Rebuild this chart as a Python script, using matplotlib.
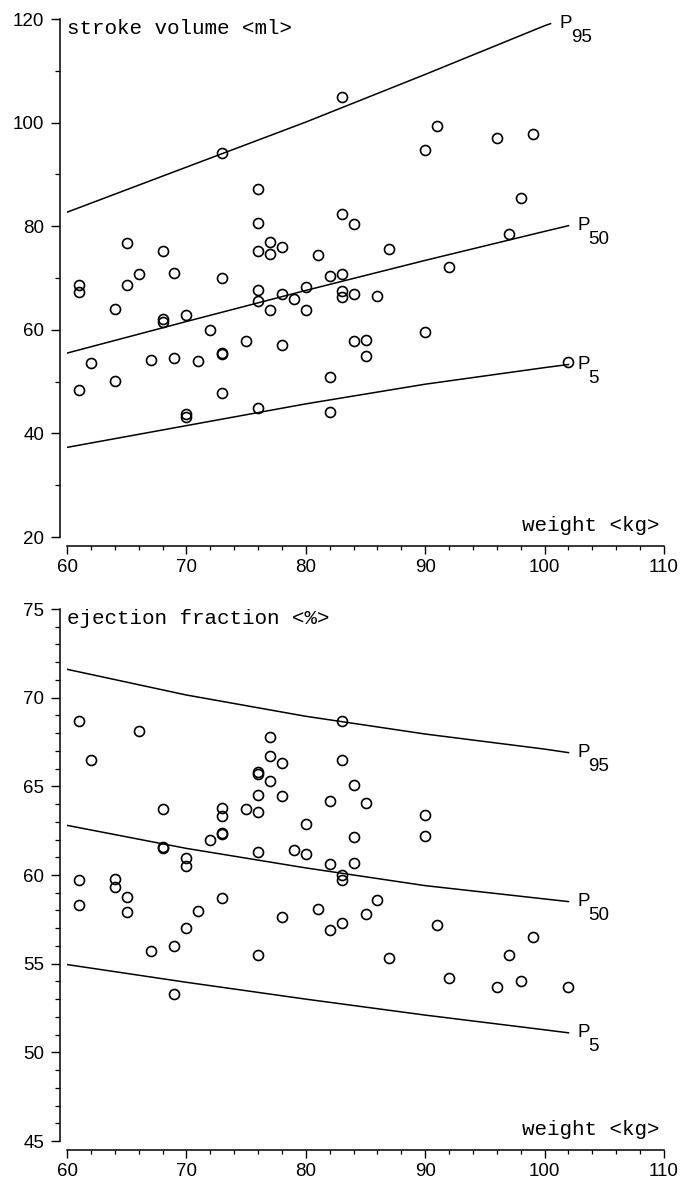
import matplotlib
matplotlib.use('Agg')
import matplotlib.pyplot as plt
from matplotlib.ticker import MultipleLocator

# ---------------- data ----------------
sv_weight = [61, 61, 61, 62, 64, 64, 65, 65, 66, 67, 68, 68, 68, 69, 69,
             70, 70, 70, 71, 72, 73, 73, 73, 73, 73, 75,
             76, 76, 76, 76, 76, 76, 77, 77, 77, 78, 78, 78, 79, 80, 80, 81,
             82, 82, 82, 83, 83, 83, 83, 83, 84, 84, 84, 85, 85, 86, 87,
             90, 90, 91, 92, 96, 97, 98, 99, 102]
sv_value = [68.6, 67.3, 48.3, 53.6, 64.1, 50.1, 76.7, 68.6, 70.8, 54.2, 75.3, 62.0, 61.5, 70.9, 54.6,
            62.9, 43.7, 43.1, 53.9, 59.9, 94.2, 70.0, 55.6, 55.3, 47.8, 57.8,
            87.1, 80.7, 75.2, 67.6, 65.5, 45.0, 76.9, 74.6, 63.8, 75.9, 66.9, 57.1, 65.9, 68.3, 63.8, 74.4,
            70.4, 50.9, 44.1, 104.9, 82.4, 70.7, 67.4, 66.3, 80.5, 66.9, 57.9, 58.1, 54.9, 66.6, 75.6,
            94.7, 59.6, 99.3, 72.1, 97.1, 78.4, 85.4, 97.8, 53.7]

ef_weight = [61, 61, 61, 62, 64, 64, 65, 65, 66, 67, 68, 68, 68, 69, 69,
             70, 70, 70, 71, 72, 73, 73, 73, 73, 73, 75,
             76, 76, 76, 76, 76, 76, 77, 77, 77, 78, 78, 78, 79, 80, 80, 81,
             82, 82, 82, 83, 83, 83, 83, 83, 84, 84, 84, 85, 85, 86, 87,
             90, 90, 91, 92, 96, 97, 98, 99, 102]
ef_value = [68.7, 59.7, 58.3, 66.5, 59.8, 59.3, 58.75, 57.9, 68.1, 55.7, 63.7, 61.6, 61.55, 56.0, 53.3,
            60.95, 60.5, 57.0, 57.95, 61.95, 63.8, 63.3, 62.35, 62.3, 58.7, 63.75,
            65.8, 65.7, 64.5, 63.55, 61.3, 55.5, 67.8, 66.7, 65.3, 66.3, 64.45, 57.65, 61.4, 62.9, 61.2, 58.1,
            64.2, 60.6, 56.9, 68.7, 66.5, 60.0, 59.7, 57.3, 65.05, 62.15, 60.65, 64.05, 57.8, 58.6, 55.3,
            63.4, 62.2, 57.2, 54.2, 53.7, 55.5, 54.0, 56.5, 53.7]

sv_p95_weight = [60, 70, 80, 90, 100, 100.5]
sv_p95 = [82.7, 91.4, 100.1, 109.3, 118.7, 119.1]
curve_weight = [60, 70, 80, 90, 100, 102]
sv_p50 = [55.5, 61.6, 67.6, 73.4, 79.0, 80.1]
sv_p5 = [37.3, 41.5, 45.7, 49.5, 52.7, 53.3]
ef_p95 = [71.6, 70.15, 68.95, 67.95, 67.1, 66.9]
ef_p50 = [62.8, 61.5, 60.4, 59.4, 58.65, 58.5]
ef_p5 = [54.95, 53.95, 53.0, 52.1, 51.27, 51.1]

x_ticks = [60, 70, 80, 90, 100, 110]
sv_ticks = [20, 40, 60, 80, 100, 120]
ef_ticks = [45, 50, 55, 60, 65, 70, 75]

# ---------------- layout ----------------
W, H = 683, 1185
fig = plt.figure(figsize=(W / 100, H / 100), dpi=100)

def px_axes(left, right, top, bottom):
    return fig.add_axes([left / W, 1 - bottom / H, (right - left) / W, (bottom - top) / H])

ax1 = px_axes(67, 664, 19, 537)
ax2 = px_axes(67, 664, 609, 1141)

mono = 'Liberation Mono'
sans = 'Liberation Sans'

def style(ax, ylim, yticks, ymin):
    ax.set_xlim(60, 110)
    ax.set_ylim(*ylim)
    for s in ['top', 'right']:
        ax.spines[s].set_visible(False)
    ax.spines['left'].set_position(('outward', 5))
    ax.spines['bottom'].set_position(('outward', 6.5))
    for s in ['left', 'bottom']:
        ax.spines[s].set_linewidth(1.1)
    ax.set_xticks(x_ticks)
    ax.xaxis.set_minor_locator(MultipleLocator(2))
    ax.set_yticks(yticks)
    ax.yaxis.set_minor_locator(MultipleLocator(ymin))
    ax.tick_params(axis='y', which='major', length=6.5, width=1.0, pad=5, labelsize=13.5)
    ax.tick_params(axis='y', which='minor', length=3.5, width=0.9)
    ax.tick_params(axis='x', which='major', length=6, width=1.0, pad=3, labelsize=13.5)
    ax.tick_params(axis='x', which='minor', length=3, width=0.9)
    for lab in ax.get_xticklabels() + ax.get_yticklabels():
        lab.set_fontfamily(sans)
    ax.patch.set_alpha(0)

style(ax1, (20, 120), sv_ticks, 10)
style(ax2, (45, 75), ef_ticks, 1)

lw = 1.1
mk = dict(marker='o', linestyle='none', markersize=7.2, markerfacecolor='none',
          markeredgecolor='black', markeredgewidth=1.2)

# top panel
ax1.plot(sv_weight, sv_value, **mk)
ax1.plot(sv_p95_weight, sv_p95, color='black', lw=lw)
ax1.plot(curve_weight, sv_p50, color='black', lw=lw)
ax1.plot(curve_weight, sv_p5, color='black', lw=lw)

# bottom panel
ax2.plot(ef_weight, ef_value, **mk)
ax2.plot(curve_weight, ef_p95, color='black', lw=lw)
ax2.plot(curve_weight, ef_p50, color='black', lw=lw)
ax2.plot(curve_weight, ef_p5, color='black', lw=lw)

def plabel(ax, x, y, sub):
    ax.annotate('P', (x, y), xytext=(6.5, 0), textcoords='offset points',
                ha='left', va='center', fontsize=13.5, family=sans)
    ax.annotate(sub, (x, y), xytext=(14.5, -10), textcoords='offset points',
                ha='left', va='center', fontsize=13.5, family=sans)

plabel(ax1, sv_p95_weight[-1], sv_p95[-1], '95')
plabel(ax1, curve_weight[-1], sv_p50[-1], '50')
plabel(ax1, curve_weight[-1], sv_p5[-1], '5')
plabel(ax2, curve_weight[-1], ef_p95[-1], '95')
plabel(ax2, curve_weight[-1], ef_p50[-1], '50')
plabel(ax2, curve_weight[-1], ef_p5[-1], '5')

for ax, title in [(ax1, 'stroke volume <ml>'), (ax2, 'ejection fraction <%>')]:
    ax.annotate(title, (60, ax.get_ylim()[1]), xytext=(0, -10.5), textcoords='offset points',
                ha='left', va='baseline', fontsize=15, family=mono)
    ax.annotate('weight <kg>', (110, ax.get_ylim()[0]), xytext=(-3, 4), textcoords='offset points',
                ha='right', va='baseline', fontsize=15, family=mono)

fig.savefig('out.png', dpi=100)
